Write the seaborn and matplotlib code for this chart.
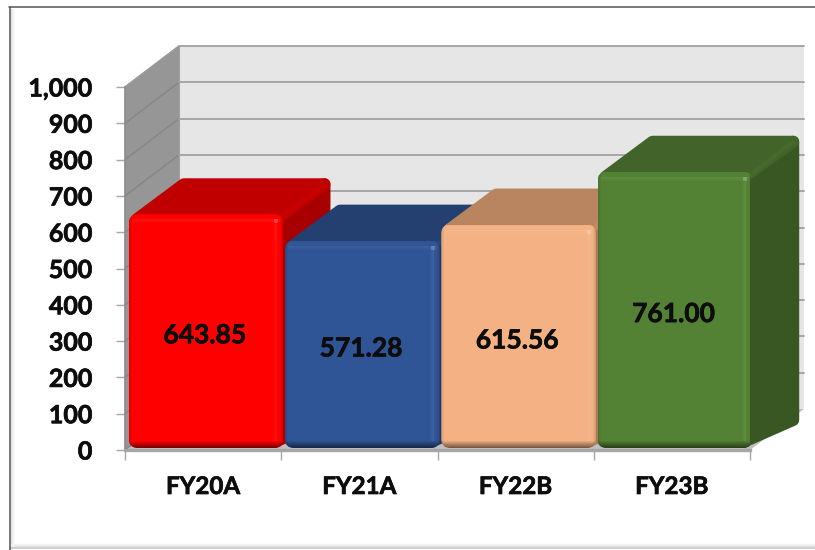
import matplotlib
matplotlib.use("Agg")
import matplotlib.pyplot as plt
import matplotlib.patheffects as pe
import seaborn as sns
import pandas as pd
from matplotlib.lines import Line2D
from matplotlib.patches import Polygon, FancyBboxPatch, Rectangle
from matplotlib.transforms import IdentityTransform, Affine2D

categories = ["FY20A", "FY21A", "FY22B", "FY23B"]
values = [643.85, 571.28, 615.56, 761.00]
value_labels = ["643.85", "571.28", "615.56", "761.00"]
y_ticks = [0, 100, 200, 300, 400, 500, 600, 700, 800, 900, 1000]
y_tick_labels = ["0", "100", "200", "300", "400", "500", "600", "700", "800", "900", "1,000"]
face_colors = ["#FF0000", "#2F5597", "#F4B183", "#548235"]
top_colors = ["#C00000", "#244070", "#B98460", "#426329"]
side_colors = ["#A80000", "#1F3864", "#A8785A", "#385723"]
band_colors = ["#C80000", "#284578", "#C08A68", "#456A2C"]

W, H = 815, 550
sns.set_theme(style="white")
plt.rcParams["font.family"] = ["Lato", "DejaVu Sans"]
fig = plt.figure(figsize=(W / 100, H / 100), dpi=100, facecolor="white")
ax = fig.add_axes([125 / W, (H - 450) / H, 625 / W, 363 / H])
ax.patch.set_alpha(0)

df = pd.DataFrame({"cat": categories, "val": values})
sns.barplot(data=df, x="cat", y="val", hue="cat", palette=face_colors, width=0.99,
            saturation=1, legend=False, ax=ax, zorder=10, linewidth=0, edgecolor="none")
ax.set_xlim(-0.5, 3.5)
ax.set_ylim(0, 1000)
ax.set_xlabel("")
ax.set_ylabel("")

GRID = "#A6A6A6"
for s in ("top", "right"):
    ax.spines[s].set_visible(False)
ax.spines["left"].set_color("#8C8C8C")
ax.spines["left"].set_zorder(3)
ax.spines["bottom"].set_color(GRID)
ax.spines["bottom"].set_linewidth(2.4)
ax.spines["bottom"].set_zorder(3)

heavy = [pe.withStroke(linewidth=0.5, foreground="#0D0D0D")]
ax.set_yticks(y_ticks, y_tick_labels, fontsize=18, fontweight="bold", color="#0D0D0D")
ax.set_xticks(range(len(categories)), categories, fontsize=17.4, fontweight="bold", color="#0D0D0D")
ax.set_xticks([i - 0.5 for i in range(len(categories) + 1)], minor=True)
ax.tick_params(axis="y", length=6.5, width=1, color=GRID, pad=17, left=True)
ax.tick_params(axis="x", which="major", length=0, pad=18)
ax.tick_params(axis="x", which="minor", length=7, width=1, color=GRID, bottom=True)
for lab in ax.get_xticklabels() + ax.get_yticklabels():
    lab.set_path_effects(heavy)

fig.canvas.draw()
ID = IdentityTransform()


def P(x, y):
    return ax.transData.transform((x, y))


x_lo, x_hi = ax.get_xlim()
DX, DY = 54, 41
a = P(x_lo, 0)
b = P(x_hi, 0)
c = P(x_lo, 1000)


def poly(points, fc, z, lw=0, ec=None):
    p = Polygon(points, closed=True, facecolor=fc, edgecolor=ec if ec else fc, linewidth=lw,
                joinstyle="round", transform=ID, clip_on=False, zorder=z)
    ax.add_artist(p)
    return p


def line(xs, ys, color, lw, z):
    ax.add_artist(Line2D(xs, ys, color=color, lw=lw, transform=ID, clip_on=False, zorder=z))


# walls and floor
poly([(c[0], c[1]), (c[0] + DX, c[1] + DY), (a[0] + DX, a[1] + DY), (a[0], a[1])], "#969696", 1)
poly([(c[0] + DX, c[1] + DY), (b[0] + DX, c[1] + DY), (b[0] + DX, a[1] + DY), (a[0] + DX, a[1] + DY)], "#E6E6E6", 1)
poly([(a[0], a[1]), (a[0] + DX, a[1] + DY), (b[0] + DX, b[1] + DY), (b[0], b[1])], "#BFBFBF", 2)
for t in y_ticks:
    p0 = P(x_lo, t)
    line([p0[0], p0[0] + DX], [p0[1], p0[1] + DY], "#858585", 1.0, 2)
    if t > 0:
        line([p0[0] + DX, b[0] + DX], [p0[1] + DY, p0[1] + DY], GRID, 1.4, 2)
line([c[0], c[0] + DX], [c[1], c[1] + DY], "#A0A0A0", 1.0, 2)
line([c[0] + DX, c[0] + DX], [c[1] + DY, a[1] + DY], "#A0A0A0", 0.8, 2)

# 3D bars drawn from the seaborn bars
SHIFT_X, SHIFT_Y = 3, 2
BX, BY = 47, 36
R = 9
bars = sorted([p for p in ax.patches if isinstance(p, Rectangle)], key=lambda r: r.get_x())[:len(values)]
for i, bar in enumerate(bars):
    z = 10 + i * 2
    bar.set_transform(ax.transData + Affine2D().translate(SHIFT_X, SHIFT_Y))
    bar.set_zorder(z + 1)
    bar.set_edgecolor("none")
    bar.set_linewidth(0)
    x0, yb = P(bar.get_x(), 0)
    x1, yt = P(bar.get_x() + bar.get_width(), bar.get_height())
    x0 += SHIFT_X
    x1 += SHIFT_X
    yb += SHIFT_Y
    yt += SHIFT_Y
    r = 6
    lw = 2 * r * 0.72
    poly([(x1 - 9, yt - 9), (x1 + BX - r, yt + BY - r), (x1 + BX - r, yb + BY - 8), (x1 - 9, yb + r)],
         side_colors[i], z, lw=lw)
    poly([(x0 + 8, yt - 5), (x0 + BX + 8, yt + BY - r), (x1 + BX - r, yt + BY - r), (x1 - 8, yt - 5)],
         top_colors[i], z, lw=lw)
    line([x1 - 6, x1 + BX - 7], [yt - 6, yt + BY - 7], band_colors[i], 3.4, z)

    clip = FancyBboxPatch((x0 + R, yb + R), x1 - x0 - 2 * R, yt - yb - 2 * R,
                          boxstyle=f"round,pad={R},rounding_size={R}",
                          transform=ID, facecolor="none", edgecolor="none", zorder=z)
    ax.add_artist(clip)
    bar.set_clip_path(clip)

    def strip(x, y, w, h, color, alpha):
        s = Rectangle((x, y), w, h, facecolor=color, edgecolor="none", alpha=alpha,
                      transform=ID, zorder=z + 1.5)
        ax.add_artist(s)
        s.set_clip_path(clip)

    for k in range(7):
        strip(x0, yb + k, x1 - x0, 1, "black", 0.5 * (1 - k / 7))
    for k in range(3):
        strip(x0 + k, yb, 1, yt - yb, "black", 0.10 * (1 - k / 3))
        strip(x1 - 1 - k, yb, 1, yt - yb, "black", 0.12 * (1 - k / 3))
    for k in range(4):
        strip(x1 - 10 + k, yb + 7, 1, yt - yb - 12, "white", 0.02 + 0.02 * k)
        strip(x0 + 3, yt - 9 + k, x1 - x0 - 6, 1, "white", 0.02 + 0.015 * k)
    strip(x1 - 9, yt - 9, 4, 4, "white", 0.18)

    txt = ax.text(i + 0.01, values[i] / 2 - 6, value_labels[i], ha="center", va="center",
                  fontsize=19, fontweight="bold", color="#0D0D0D", zorder=30)
    txt.set_path_effects(heavy)


# outer chart frame
def fline(x, y, color, lw):
    fig.add_artist(Line2D([v / W for v in x], [1 - v / H for v in y], color=color, lw=lw,
                          transform=fig.transFigure))


for k, col in enumerate(["#E2E2E2", "#EBEBEB", "#F4F4F4"]):
    fline([11 + k, 11 + k], [9, 548], col, 1.0)
    fline([10, 815], [546 - k, 546 - k], col, 1.0)
fline([10, 815], [548, 548], "#C8C8C8", 1.2)
fline([9, 815], [6.5, 6.5], "#555555", 1.1)
fline([9.5, 9.5], [6.5, 550], "#555555", 1.1)

fig.savefig("out.png", dpi=100, facecolor="white")
